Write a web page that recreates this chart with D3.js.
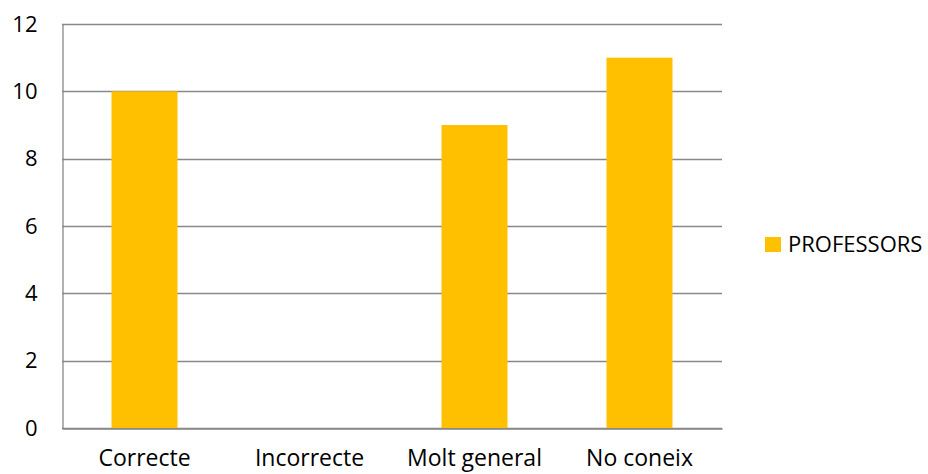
<!DOCTYPE html>
<html>
<head>
<meta charset="utf-8">
<script src="https://cdn.jsdelivr.net/npm/d3@7"></script>
<style>
  html, body { margin: 0; padding: 0; background: #fff; }
  svg { display: block; font-family: "Open Sans", sans-serif; }
</style>
</head>
<body>
<svg id="chart" width="928" height="474"></svg>
<script>
// Responses per category
const categories = ["Correcte", "Incorrecte", "Molt general", "No coneix"];
const professors = [10, 0, 9, 11];
const yTicks = [0, 2, 4, 6, 8, 10, 12];
const seriesName = "PROFESSORS";

const svg = d3.select("#chart");
const margin = { left: 62, right: 206, top: 24, bottom: 46 };
const W = 928, H = 474;
const gridColor = "#898989";
const barColor = "#FFC000";

const x = d3.scaleBand()
  .domain(categories)
  .range([margin.left, W - margin.right])
  .paddingInner(0.6)
  .paddingOuter(0.3);

const y = d3.scaleLinear()
  .domain([0, 12])
  .range([H - margin.bottom, margin.top]);

// Horizontal gridlines
svg.append("g")
  .selectAll("line")
  .data(yTicks)
  .join("line")
  .attr("x1", margin.left)
  .attr("x2", W - margin.right)
  .attr("y1", d => Math.round(y(d)) + 0.5)
  .attr("y2", d => Math.round(y(d)) + 0.5)
  .attr("stroke", gridColor)
  .attr("stroke-width", 1.3);

// Bars
svg.append("g")
  .selectAll("rect")
  .data(categories.map((c, i) => ({ c, v: professors[i] })))
  .join("rect")
  .attr("x", d => x(d.c))
  .attr("width", x.bandwidth())
  .attr("y", d => y(d.v))
  .attr("height", d => y(0) - y(d.v))
  .attr("fill", barColor);

// Y axis
const yAxis = svg.append("g")
  .attr("transform", `translate(${margin.left + 0.5},0)`)
  .call(d3.axisLeft(y).tickValues(yTicks).tickSize(0).tickPadding(25).tickFormat(d3.format("d")));
yAxis.select(".domain").attr("stroke", gridColor).attr("stroke-width", 1.3);
yAxis.selectAll("text").attr("font-size", 22).attr("fill", "#000").attr("font-family", "Open Sans");

// X axis
const xAxis = svg.append("g")
  .attr("transform", `translate(0,${Math.round(y(0)) + 0.5})`)
  .call(d3.axisBottom(x).tickSize(0).tickPadding(21));
xAxis.select(".domain").attr("stroke", gridColor).attr("stroke-width", 1.3);
xAxis.selectAll("text").attr("font-size", 23).attr("fill", "#000").attr("font-family", "Open Sans");

// Legend
const legend = svg.append("g").attr("transform", "translate(765,237)");
legend.append("rect").attr("width", 16).attr("height", 15).attr("fill", barColor);
legend.append("text")
  .attr("x", 23).attr("y", 7.5)
  .attr("dy", "0.35em")
  .attr("font-size", 22)
  .attr("fill", "#000")
  .text(seriesName);
</script>
</body>
</html>
